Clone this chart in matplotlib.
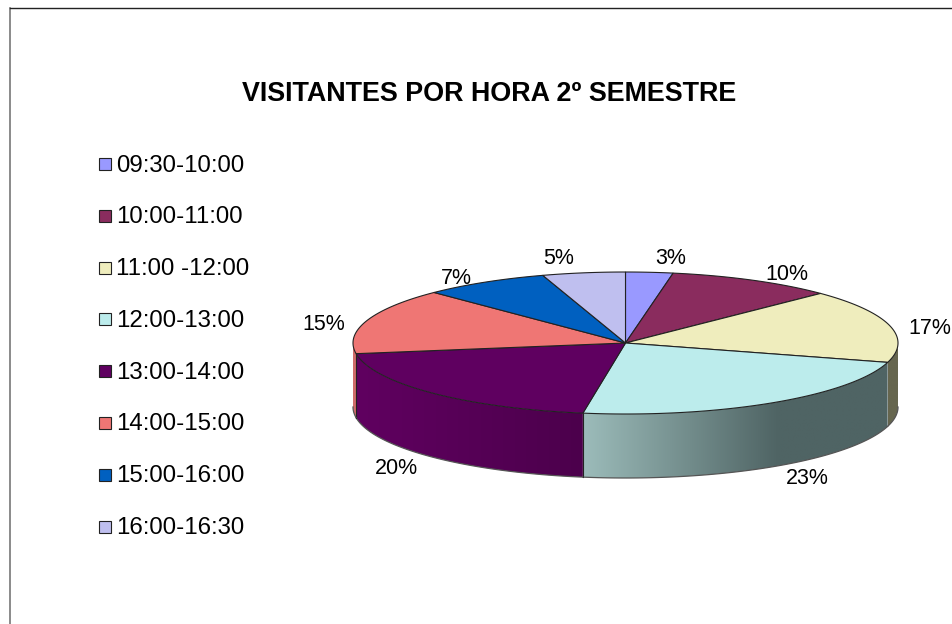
import numpy as np
import matplotlib
matplotlib.use("Agg")
import matplotlib.pyplot as plt
from matplotlib.patches import Polygon, Rectangle
from matplotlib.colors import LinearSegmentedColormap

plt.rcParams['font.family'] = ['Liberation Sans', 'DejaVu Sans']

horas = ["09:30-10:00", "10:00-11:00", "11:00 -12:00", "12:00-13:00",
         "13:00-14:00", "14:00-15:00", "15:00-16:00", "16:00-16:30"]
valores = [2.8, 9.9, 16.7, 23.1, 20.1, 15.0, 7.49, 4.91]
cores = ["#9999ff", "#8a2c5e", "#efedbd", "#bcecec",
         "#5f0060", "#ef7674", "#0060c0", "#bfbfef"]
# cor da parede lateral de cada fatia (esquerda, direita)
paredes = {2: ("#66664f", "#66664f"), 3: ("#9cbcba", "#4f6464"),
           4: ("#600060", "#4c004c"), 5: ("#d06c6a", "#d06c6a")}
rotulos_pos = [(671, 258), (787, 275), (930, 329), (807, 478),
               (396, 468), (324, 325), (456, 278), (559, 259)]

cx, cy, rx, ry, altura = 625.5, 343, 272.5, 71, 64

fig = plt.figure(figsize=(9.53, 6.24), dpi=100)
ax = fig.add_axes([0, 0, 1, 1])
ax.set_xlim(0, 953)
ax.set_ylim(624, 0)
ax.axis("off")

# moldura
ax.plot([10.5, 10.5], [624, 7.5], color="#777777", lw=1.2)
ax.plot([10.5, 953], [7.5, 7.5], color="#222222", lw=1)

ax.text(489.5, 94, "VISITANTES POR HORA 2º SEMESTRE", fontsize=19.35,
        fontweight="bold", ha="center", va="center", color="black")


def ponto(ang):
    return cx + rx * np.sin(ang), cy - ry * np.cos(ang)


limites = np.cumsum([0] + valores) / sum(valores) * 2 * np.pi

# paredes laterais (metade da frente)
for i, (esq, dir_) in paredes.items():
    a0 = max(limites[i], np.pi / 2)
    a1 = min(limites[i + 1], 3 * np.pi / 2)
    ang = np.linspace(a0, a1, 100)
    x, y = ponto(ang)
    xy = np.column_stack([np.r_[x, x[::-1]], np.r_[y, y[::-1] + altura]])
    poly = Polygon(xy, closed=True, fc="none", ec="none", zorder=3)
    ax.add_patch(poly)
    if i == 3:
        # o gradiente do teal acaba antes da borda direita
        cmap = LinearSegmentedColormap.from_list("p", [(0, esq), (0.64, dir_), (1, dir_)])
    else:
        cmap = LinearSegmentedColormap.from_list("p", [esq, dir_])
    img = ax.imshow(np.linspace(0, 1, 256).reshape(1, -1), cmap=cmap, aspect="auto",
                    extent=[x.min(), x.max(), y.max() + altura, y.min()], zorder=2)
    img.set_clip_path(poly)
    ax.plot(x, y + altura, color="#555555", lw=0.9, zorder=3)
    # aresta vertical entre paredes
    if i in (3, 4):
        ax.plot([x[-1], x[-1]], [y[-1], y[-1] + altura], color="#222222", lw=0.8, zorder=3)

ax.set_xlim(0, 953)
ax.set_ylim(624, 0)

# tampo
for i, cor in enumerate(cores):
    ang = np.linspace(limites[i], limites[i + 1], 120)
    x, y = ponto(ang)
    xy = np.column_stack([np.r_[cx, x], np.r_[cy, y]])
    ax.add_patch(Polygon(xy, closed=True, fc=cor, ec="#222222", lw=0.8, zorder=4))

# porcentagens
for v, (px, py) in zip(valores, rotulos_pos):
    ax.text(px, py, f"{v:.0f}%", fontsize=15.5, ha="center", va="center", color="black")

# legenda
for i, (h, cor) in enumerate(zip(horas, cores)):
    yy = 164 + i * 51.8
    ax.add_patch(Rectangle((99.5, yy - 6), 12, 12, fc=cor, ec="#222222", lw=0.8))
    ax.text(116.5, yy + 1.5, h, fontsize=17.3, ha="left", va="center", color="black")

fig.savefig("out.png", dpi=100)
